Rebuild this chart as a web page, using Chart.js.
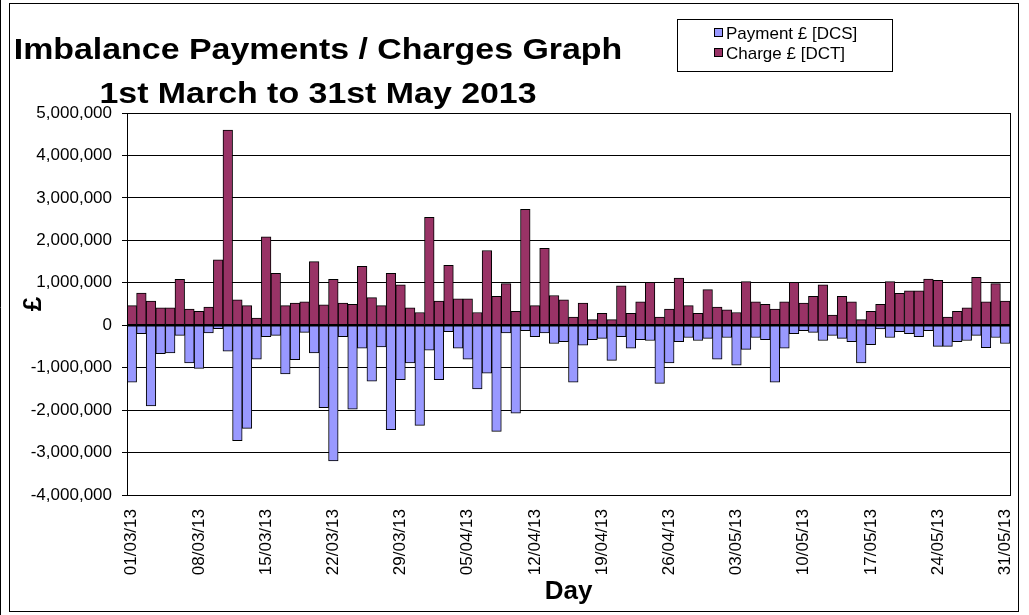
<!DOCTYPE html>
<html>
<head>
<meta charset="utf-8">
<script src="https://cdn.jsdelivr.net/npm/chart.js@4"></script>
<style>
  html, body { margin: 0; padding: 0; background: #fff; }
  #wrap { width: 1029px; height: 615px; }
</style>
</head>
<body>
<div id="wrap"><canvas id="imbChart" width="1029" height="615"></canvas></div>
<script>
const FONT = '"Liberation Sans", Arial, sans-serif';

// one bar slot per day, 1 March - 31 May 2013
const months = [['03', 31], ['04', 30], ['05', 31]];
const days = [];
months.forEach(([mm, n]) => { for (let d = 1; d <= n; d++) days.push(String(d).padStart(2, '0') + '/' + mm + '/13'); });

// only every 7th day gets a label on the axis
const tickLabels = ['01/03/13','08/03/13','15/03/13','22/03/13','29/03/13','05/04/13','12/04/13',
  '19/04/13','26/04/13','03/05/13','10/05/13','17/05/13','24/05/13','31/05/13'];

const seriesNames = ['Payment £ [DCS]', 'Charge £ [DCT]'];
const seriesColors = ['#9999FF', '#993366'];

// Payment £ [DCS] (negative)
const payment = [
  -1340000, -200000, -1900000, -670000, -650000, -240000, -890000, -1020000, -180000, -80000,
  -610000, -2720000, -2430000, -800000, -270000, -240000, -1150000, -810000, -170000, -650000,
  -1940000, -3200000, -270000, -1980000, -540000, -1320000, -510000, -2460000, -1280000, -890000,
  -2360000, -590000, -1280000, -150000, -540000, -800000, -1500000, -1130000, -2500000, -180000,
  -2070000, -130000, -270000, -180000, -430000, -390000, -1340000, -470000, -340000, -310000,
  -830000, -270000, -540000, -340000, -360000, -1370000, -890000, -390000, -290000, -360000,
  -310000, -800000, -290000, -940000, -570000, -290000, -340000, -1340000, -540000, -200000,
  -130000, -170000, -360000, -240000, -310000, -390000, -890000, -460000, -90000, -290000,
  -150000, -200000, -270000, -130000, -500000, -500000, -390000, -360000, -240000, -530000,
  -290000, -430000
];

// Charge £ [DCT] (positive)
const charge = [
  460000, 760000, 570000, 410000, 410000, 1080000, 380000, 330000, 430000, 1540000,
  4600000, 600000, 460000, 170000, 2080000, 1220000, 460000, 520000, 550000, 1500000,
  480000, 1080000, 520000, 490000, 1390000, 650000, 460000, 1220000, 950000, 410000,
  300000, 2540000, 570000, 1410000, 620000, 620000, 300000, 1760000, 680000, 980000,
  330000, 2730000, 460000, 1810000, 700000, 600000, 190000, 520000, 130000, 280000,
  130000, 930000, 280000, 550000, 1010000, 190000, 380000, 1110000, 460000, 280000,
  840000, 430000, 360000, 300000, 1030000, 550000, 490000, 380000, 550000, 1010000,
  520000, 680000, 950000, 240000, 680000, 550000, 130000, 330000, 490000, 1030000,
  750000, 810000, 810000, 1090000, 1060000, 190000, 330000, 410000, 1130000, 550000,
  980000, 570000
];

const frame = {
  id: 'frame',
  beforeDraw(chart) {
    const c = chart.ctx;
    c.save();
    c.fillStyle = '#fff';
    c.fillRect(0, 0, chart.width, chart.height);
    c.strokeStyle = '#000';
    c.lineWidth = 1;
    c.strokeRect(9.5, 3.5, 1009, 608);
    c.beginPath(); c.moveTo(0.5, 0); c.lineTo(0.5, 615); c.stroke();
    c.restore();
  },
  afterDraw(chart) {
    const c = chart.ctx, a = chart.chartArea;
    c.save();
    c.strokeStyle = '#000';
    c.lineWidth = 1;
    c.strokeRect(Math.round(a.left) + 0.5, Math.round(a.top) + 0.5, Math.round(a.right - a.left), Math.round(a.bottom - a.top));

    // two line title, drawn a little wide like the original
    c.fillStyle = '#000';
    c.font = 'bold 30px ' + FONT;
    c.textAlign = 'center';
    c.textBaseline = 'alphabetic';
    [['Imbalance Payments / Charges Graph', 59], ['1st March to 31st May 2013', 103]].forEach(([t, y]) => {
      c.save();
      c.translate(318, y);
      c.scale(1.13, 1);
      c.fillText(t, 0, 0);
      c.restore();
    });

    // legend box
    c.strokeRect(677.5, 19.5, 215, 52);
    c.font = '17px ' + FONT;
    c.textAlign = 'left';
    c.textBaseline = 'middle';
    chart.data.datasets.forEach((ds, i) => {
      const y = 33 + i * 20;
      c.fillStyle = ds.backgroundColor;
      c.fillRect(714.5, y - 4.5, 8, 8);
      c.strokeRect(714.5, y - 4.5, 8, 8);
      c.fillStyle = '#000';
      c.fillText(ds.label, 726, y + 1);
    });
    c.restore();
  }
};

new Chart(document.getElementById('imbChart'), {
  type: 'bar',
  data: {
    labels: days,
    datasets: [
      { label: seriesNames[0], data: payment, backgroundColor: seriesColors[0] },
      { label: seriesNames[1], data: charge, backgroundColor: seriesColors[1] }
    ]
  },
  options: {
    responsive: false,
    animation: false,
    devicePixelRatio: 1,
    layout: { padding: { top: 113, left: 12, right: 19, bottom: 8 } },
    datasets: {
      bar: {
        grouped: false,
        categoryPercentage: 1,
        barPercentage: 1,
        borderColor: '#000',
        borderWidth: 1,
        borderSkipped: false
      }
    },
    plugins: { legend: { display: false }, title: { display: false }, tooltip: { enabled: false } },
    scales: {
      x: {
        grid: { display: false, drawTicks: false },
        border: { display: true, color: '#000', width: 1 },
        ticks: {
          autoSkip: false,
          maxRotation: 90,
          minRotation: 90,
          padding: 14,
          color: '#000',
          font: { family: FONT, size: 17 },
          callback: function (v, i) {
            const l = this.getLabelForValue(v);
            return tickLabels.includes(l) ? l : '';
          }
        },
        title: { display: true, text: 'Day', color: '#000', font: { family: FONT, size: 26, weight: 'bold' }, padding: 0 },
        afterFit: s => { s.height = 112; s.paddingLeft = 0; s.paddingRight = 0; }
      },
      y: {
        min: -4000000,
        max: 5000000,
        grid: { color: '#000', lineWidth: 1, tickLength: 5 },
        border: { display: true, color: '#000', width: 1 },
        ticks: {
          stepSize: 1000000,
          padding: 10,
          color: '#000',
          font: { family: FONT, size: 17 },
          callback: v => v.toLocaleString('en-GB')
        },
        title: { display: true, text: '£', color: '#000', font: { family: FONT, size: 26, weight: 'bold' }, padding: { top: 6, bottom: 0 } },
        afterFit: s => { s.width = 115; s.paddingTop = 0; s.paddingBottom = 0; }
      }
    }
  },
  plugins: [frame]
});
</script>
</body>
</html>
